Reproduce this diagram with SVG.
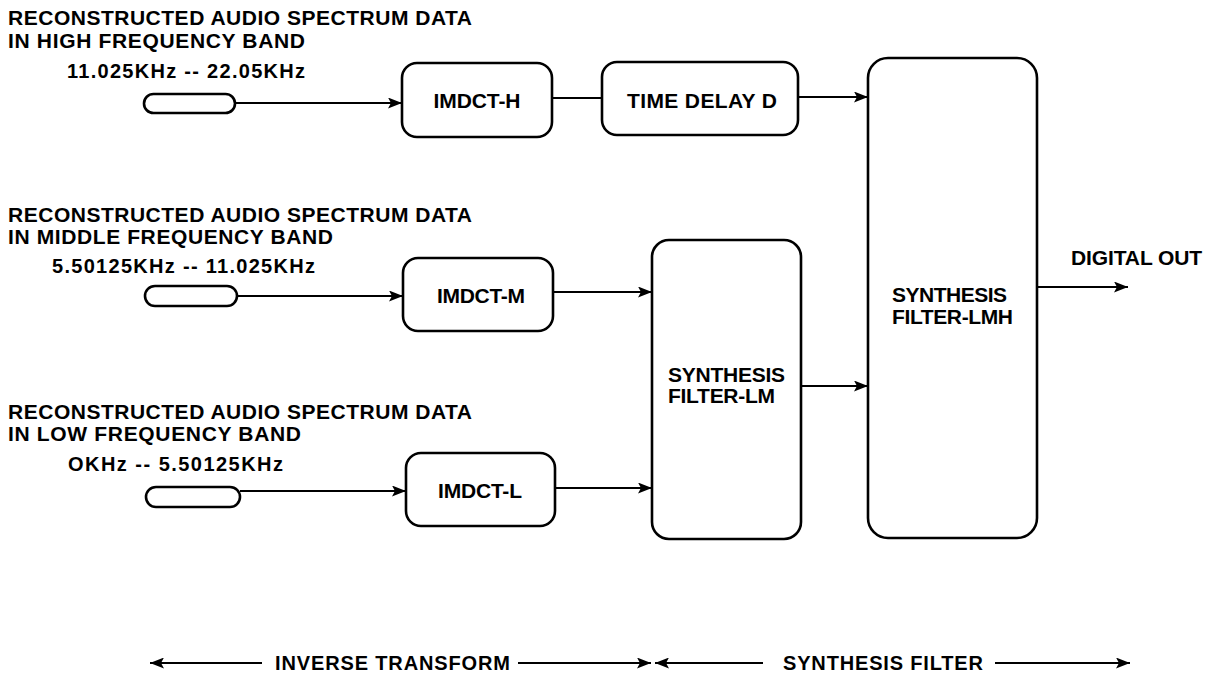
<svg xmlns="http://www.w3.org/2000/svg" width="1212" height="673" viewBox="0 0 1212 673">
<style>
text{font-family:"Liberation Sans",Arial,sans-serif;font-weight:700;fill:#000}
.t{font-size:21px}
.f{font-size:20px}
.b{font-size:21px}
.box{fill:#fff;stroke:#000;stroke-width:2.6}
.pill{fill:#fff;stroke:#000;stroke-width:2.6}
.c{fill:none;stroke:#000;stroke-width:1.8}
</style>
<defs>
<marker id="ah" markerUnits="userSpaceOnUse" markerWidth="16" markerHeight="12" refX="14" refY="5.5" orient="auto">
<path d="M0,0 L14,5.5 L0,11 L3,5.5 Z" fill="#000"/>
</marker>
<marker id="as" markerUnits="userSpaceOnUse" markerWidth="16" markerHeight="12" refX="0" refY="5.5" orient="auto">
<path d="M14,0 L0,5.5 L14,11 L11,5.5 Z" fill="#000"/>
</marker>
</defs>
<rect width="1212" height="673" fill="#fff"/>

<g id="label-high">
<text class="t" x="8" y="25" textLength="464" lengthAdjust="spacing">RECONSTRUCTED AUDIO SPECTRUM DATA</text>
<text class="t" x="8" y="48" textLength="297" lengthAdjust="spacing">IN HIGH FREQUENCY BAND</text>
<text class="f" x="67" y="78" textLength="238" lengthAdjust="spacing">11.025KHz -- 22.05KHz</text>
</g>
<g id="input-high"><rect class="pill" x="144" y="94" width="91" height="19" rx="9.5"/></g>

<g id="label-middle">
<text class="t" x="8" y="222" textLength="464" lengthAdjust="spacing">RECONSTRUCTED AUDIO SPECTRUM DATA</text>
<text class="t" x="8" y="244" textLength="325" lengthAdjust="spacing">IN MIDDLE FREQUENCY BAND</text>
<text class="f" x="52" y="273" textLength="263" lengthAdjust="spacing">5.50125KHz -- 11.025KHz</text>
</g>
<g id="input-middle"><rect class="pill" x="145" y="286" width="92" height="20" rx="10"/></g>

<g id="label-low">
<text class="t" x="8" y="419" textLength="464" lengthAdjust="spacing">RECONSTRUCTED AUDIO SPECTRUM DATA</text>
<text class="t" x="8" y="441" textLength="293" lengthAdjust="spacing">IN LOW FREQUENCY BAND</text>
<text class="f" x="68" y="471" textLength="215" lengthAdjust="spacing">OKHz -- 5.50125KHz</text>
</g>
<g id="input-low"><rect class="pill" x="146" y="487" width="94" height="20" rx="10"/></g>

<g id="imdct-h"><rect class="box" x="402" y="63" width="150" height="74" rx="15"/>
<text class="b" x="477" y="108" text-anchor="middle" textLength="87" lengthAdjust="spacing">IMDCT-H</text></g>
<g id="time-delay"><rect class="box" x="602" y="62" width="196" height="73" rx="15"/>
<text class="b" x="702" y="108" text-anchor="middle" textLength="150" lengthAdjust="spacing">TIME DELAY D</text></g>
<g id="imdct-m"><rect class="box" x="403" y="258" width="150" height="73" rx="15"/>
<text class="b" x="481" y="303" text-anchor="middle" textLength="88" lengthAdjust="spacing">IMDCT-M</text></g>
<g id="imdct-l"><rect class="box" x="406" y="453" width="149" height="73" rx="15"/>
<text class="b" x="480" y="498" text-anchor="middle" textLength="84" lengthAdjust="spacing">IMDCT-L</text></g>
<g id="synth-lm"><rect class="box" x="652" y="240" width="149" height="299" rx="17"/>
<text class="b" x="668" y="382" textLength="117" lengthAdjust="spacing">SYNTHESIS</text>
<text class="b" x="668" y="403" textLength="107" lengthAdjust="spacing">FILTER-LM</text></g>
<g id="synth-lmh"><rect class="box" x="868" y="58" width="169" height="480" rx="20"/>
<text class="b" x="892" y="302" textLength="115" lengthAdjust="spacing">SYNTHESIS</text>
<text class="b" x="892" y="324" textLength="121" lengthAdjust="spacing">FILTER-LMH</text></g>
<g id="digital-out"><text class="b" x="1071" y="265" textLength="131" lengthAdjust="spacing">DIGITAL OUT</text></g>

<g id="connectors">
<path class="c" d="M235,103 L402,103" marker-end="url(#ah)"/>
<path class="c" d="M552,98 L602,98"/>
<path class="c" d="M798,97 L868,97" marker-end="url(#ah)"/>
<path class="c" d="M237,296 L403,296" marker-end="url(#ah)"/>
<path class="c" d="M553,292 L652,292" marker-end="url(#ah)"/>
<path class="c" d="M240,491 L406,491" marker-end="url(#ah)"/>
<path class="c" d="M555,488 L652,488" marker-end="url(#ah)"/>
<path class="c" d="M801,386 L868,386" marker-end="url(#ah)"/>
<path class="c" d="M1037,287 L1128,287" marker-end="url(#ah)"/>
<path class="c" d="M150,663 L262,663" marker-start="url(#as)"/>
<path class="c" d="M518,663 L651,663" marker-end="url(#ah)"/>
<path class="c" d="M655,663 L763,663" marker-start="url(#as)"/>
<path class="c" d="M995,663 L1130,663" marker-end="url(#ah)"/>
</g>
<g id="scale-labels">
<text class="f" x="275" y="670" textLength="235" lengthAdjust="spacing">INVERSE TRANSFORM</text>
<text class="f" x="783" y="670" textLength="200" lengthAdjust="spacing">SYNTHESIS FILTER</text>
</g>
</svg>
